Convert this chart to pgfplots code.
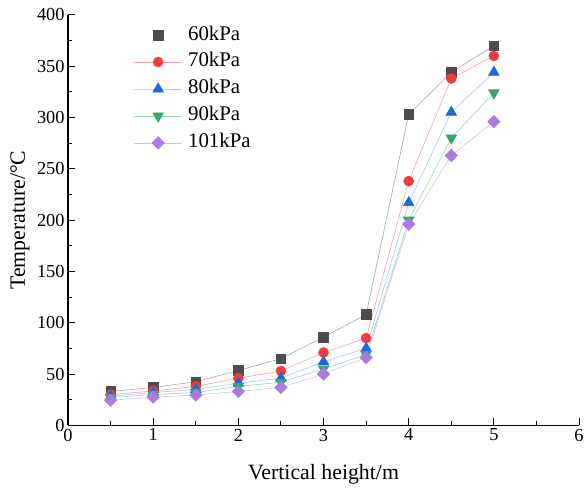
\documentclass[border=0pt]{standalone}
\usepackage{pgfplots}
\pgfplotsset{compat=1.18}
\usepackage{fontspec}
\setmainfont{Liberation Serif}
\definecolor{c1}{HTML}{4D4D4D}
\definecolor{c1l}{HTML}{A8A8A8}
\definecolor{c2}{HTML}{F03C3C}
\definecolor{c2l}{HTML}{F5A3A3}
\definecolor{c3}{HTML}{1F6AD8}
\definecolor{c3l}{HTML}{A9C4F0}
\definecolor{c4}{HTML}{35A86A}
\definecolor{c4l}{HTML}{98D4B4}
\definecolor{c5}{HTML}{A97BDE}
\definecolor{c5l}{HTML}{D4BEF0}
\pgfplotsset{
  longlegend/.style={legend image code/.code={\draw[mark repeat=2,mark phase=2,##1] plot coordinates {(0pt,0pt)(24pt,0pt)(48pt,0pt)};}},
  markslegend/.style={legend image code/.code={\draw[mark repeat=2,mark phase=2,##1,only marks] plot coordinates {(0pt,0pt)(24pt,0pt)(48pt,0pt)};}},
}
\begin{document}
\begin{tikzpicture}
\begin{axis}[
  scale only axis,
  width=515.4pt, height=414pt,
  xmin=0, xmax=6, ymin=0, ymax=400,
  xtick={0,1,...,6}, ytick={0,50,...,400},
  minor x tick num=1, minor y tick num=1,
  axis lines=left, axis line style={-, line width=1.2pt},
  tick align=inside,
  major tick length=7.5pt, minor tick length=4.5pt,
  tick style={line width=1.1pt, black},
  /pgf/number format/assume math mode=true,
  ticklabel style={font=\fontsize{18.5}{20}\selectfont},
  xlabel={Vertical height/m}, ylabel={Temperature/°C},
  label style={font=\fontsize{22}{24}\selectfont},
  xlabel style={at={(axis description cs:0.5,-0.1329)}, anchor=base},
  ylabel style={at={(axis description cs:-0.0846,0.5)}, anchor=base},
  legend style={at={(axis description cs:0.1288,0.973)}, anchor=north west, draw=none, fill=none,
    inner sep=0pt, font=\fontsize{21}{23}\selectfont, row sep=9.2pt, column sep=6pt,
    nodes={inner sep=0pt, text height=14pt, text depth=4pt}},
  legend cell align=left,
  longlegend,
  every axis plot/.append style={line width=0.6pt},
]
\coordinate (A) at (rel axis cs:0,0);
\coordinate (B) at (rel axis cs:1,1);
\addplot[c1l, mark=square*, mark size=4.8pt, mark options={fill=c1, draw=c1}, markslegend]
 coordinates {(0.5,33)(1,37)(1.5,42.5)(2,53.5)(2.5,65)(3,86)(3.5,108)(4,303)(4.5,344)(5,370)};
\addlegendentry{60kPa}
\addplot[c2l, mark=*, mark size=5pt, mark options={fill=c2, draw=c2}]
 coordinates {(0.5,30)(1,33.5)(1.5,38)(2,46)(2.5,53)(3,71)(3.5,85)(4,238)(4.5,338)(5,360)};
\addlegendentry{70kPa}
\addplot[c3l, mark=triangle*, mark size=6.2pt, mark options={fill=c3, draw=c3}]
 coordinates {(0.5,28.5)(1,32)(1.5,35)(2,41)(2.5,46)(3,62)(3.5,75)(4,217)(4.5,305)(5,344)};
\addlegendentry{80kPa}
\addplot[c4l, mark=triangle*, mark size=6.2pt, mark options={fill=c4, draw=c4, rotate=180}]
 coordinates {(0.5,27)(1,30)(1.5,32)(2,38)(2.5,42)(3,55)(3.5,69)(4,200)(4.5,280)(5,324)};
\addlegendentry{90kPa}
\addplot[c5l, mark=square*, mark size=4.4pt, mark options={fill=c5, draw=c5, rotate=45}]
 coordinates {(0.5,24.5)(1,27.5)(1.5,29.5)(2,33)(2.5,37)(3,50)(3.5,66)(4,196)(4.5,263)(5,296)};
\addlegendentry{101kPa}
\end{axis}
\pgfresetboundingbox
\path[use as bounding box] ([shift={(-68.6pt,-64pt)}]A) rectangle ([shift={(6pt,15pt)}]B);
\end{tikzpicture}
\end{document}
